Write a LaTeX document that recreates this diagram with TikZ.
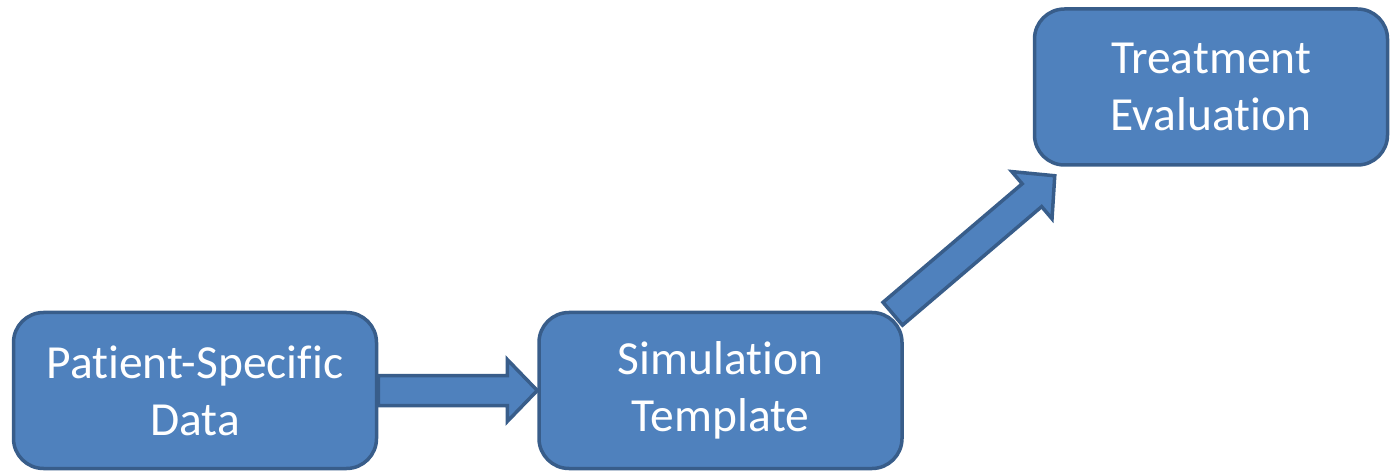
\documentclass[tikz,border=0pt]{standalone}
\usepackage{fontspec}
\setmainfont[Ligatures=NoCommon]{Carlito}
\usepackage{tikz}
\usetikzlibrary{calc}

\definecolor{boxfill}{HTML}{4F81BD}
\definecolor{boxline}{HTML}{385D8A}

% fat arrow outline from #1 to #2 (shaft 30pt, head 62pt wide)
\newcommand{\blockarrow}[2]{%
  \coordinate (neck) at ($(#2)!30pt!(#1)$);
  \draw [block arrow] ($(#1)!15pt!90:(#2)$) -- ($(neck)!15pt!90:(#2)$)
    -- ($(neck)!31pt!90:(#2)$) -- (#2) -- ($(neck)!31pt!-90:(#2)$)
    -- ($(neck)!15pt!-90:(#2)$) -- ($(#1)!15pt!-90:(#2)$) -- cycle;
}

\begin{document}
\begin{tikzpicture}[x=1pt,y=1pt]
      \tikzset{stage box/.style={draw=boxline,
          fill=boxfill,
          line width=3.5pt,
          rounded corners=30pt,
          minimum width=363pt,
          minimum height=156pt,
          align=center,
          text=white,
          font=\fontsize{47.5}{57}\selectfont},
        block arrow/.style={draw=boxline,
          fill=boxfill,
          line width=3.5pt}
      }
      \useasboundingbox (0,0) rectangle (1391,474);

      \node [stage box] (D) at (195,83.5) {Patient-Specific\\Data};
      \node [stage box] (S) at (720.5,83.5) {Simulation\\Template};
      \node [stage box, minimum width=353pt] (T) at (1211,387) {Treatment\\Evaluation};

      \coordinate (S1) at ($(S.north east)+(-11,-3)$);
      \coordinate (T1) at ($(T.south west)+(22,-9)$);

      \blockarrow{D.east}{S.west}
      \blockarrow{S1}{T1}

    \end{tikzpicture}
\end{document}
